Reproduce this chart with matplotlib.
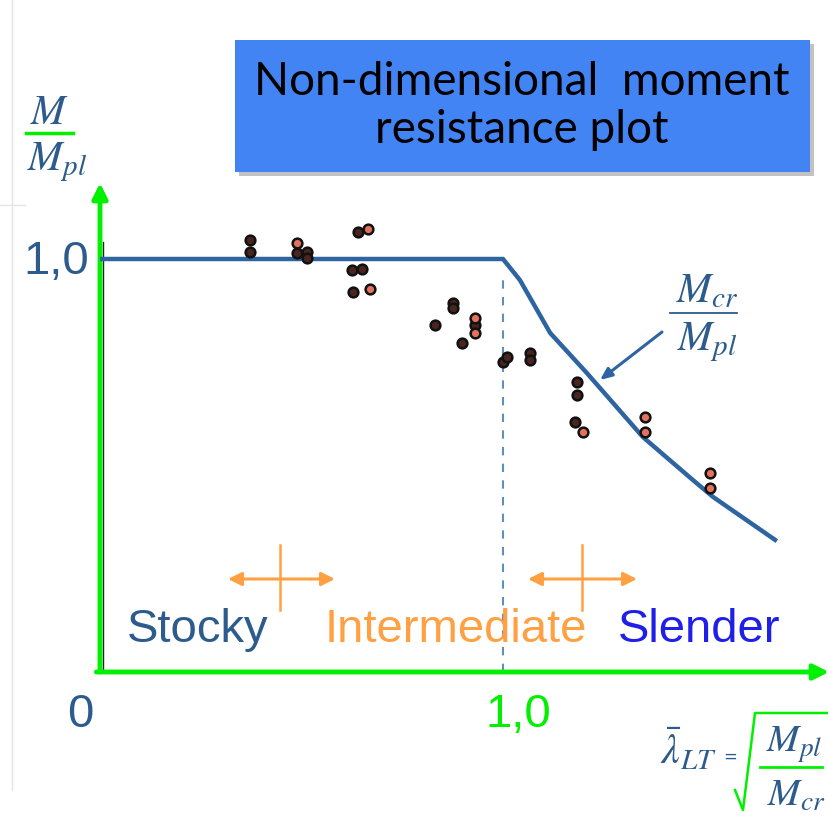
import matplotlib
matplotlib.use("Agg")
import matplotlib.pyplot as plt
from matplotlib.patches import Rectangle

plt.rcParams["mathtext.fontset"] = "stix"

# design curve M/Mpl vs lambda_LT
curve_lam = [0.0, 1.0, 1.042, 1.117, 1.208, 1.347, 1.471, 1.521, 1.675]
curve_m = [1.0, 1.0, 0.949, 0.821, 0.724, 0.569, 0.465, 0.424, 0.320]

# test results, dark markers
dark_lam = [0.372, 0.372, 0.489, 0.514, 0.514, 0.640, 0.625, 0.650, 0.628,
            0.876, 0.876, 0.831, 0.931, 0.898, 1.000, 1.010, 1.067, 1.067,
            1.184, 1.184, 1.179]
dark_m = [1.046, 1.017, 1.015, 1.017, 1.002, 1.065, 0.973, 0.976, 0.920,
          0.893, 0.881, 0.840, 0.840, 0.797, 0.751, 0.763, 0.772, 0.755,
          0.702, 0.671, 0.605]
# test results, light (salmon) markers
light_lam = [0.489, 0.665, 0.670, 0.931, 0.931, 1.199, 1.352, 1.352, 1.514, 1.514]
light_m = [1.039, 1.073, 0.927, 0.857, 0.821, 0.581, 0.617, 0.581, 0.482, 0.446]

title = "Non-dimensional  moment\nresistance plot"
zones = ["Stocky", "Intermediate", "Slender"]
zone_colors = ["#2d5b8c", "#ffa043", "#1f1fe8"]

W, H = 829, 817
DARK = "#2d5b8c"
GREEN = "#00f000"
LINE = "#2e64a0"


def px(x, y):
    # pixel position (from top-left) -> figure fraction
    return (x / W, 1 - y / H)


fig = plt.figure(figsize=(W / 100, H / 100), dpi=100)
fig.patch.set_facecolor("white")

# faint slide border marks
fig.add_artist(plt.Line2D([12 / W, 12 / W], [1 - 790 / H, 1.0], color="#e4e4e4", lw=1))
fig.add_artist(plt.Line2D([0, 25 / W], [1 - 205 / H, 1 - 205 / H], color="#e4e4e4", lw=1))

x0, y0 = 100, 672
sx, sy = 403, 413
ax = fig.add_axes([x0 / W, (H - y0) / H, (W - x0) / W, (y0 - 183) / H])
ax.set_xlim(0, (W - x0) / sx)
ax.set_ylim(0, (y0 - 183) / sy)
ax.axis("off")

# green axes with arrowheads
ax.annotate("", xy=(0, 1.0), xytext=(0, 0), xycoords="axes fraction",
            arrowprops=dict(arrowstyle="-|>,head_length=0.9,head_width=0.45",
                            color=GREEN, lw=3.5, shrinkA=0, shrinkB=0))
ax.annotate("", xy=(1.0, 0), xytext=(-0.005, 0), xycoords="axes fraction",
            arrowprops=dict(arrowstyle="-|>,head_length=0.9,head_width=0.45",
                            color=GREEN, lw=3.5, shrinkA=0, shrinkB=0))
ax.plot([0.008, 0.008], [0.005, 1.04], color="#222222", lw=1, zorder=1)

# dashed line at lambda = 1
ax.plot([1.0, 1.0], [0.0, (y0 - 278) / sy], ls=(0, (4, 4)), color="#5f8fbd", lw=1.5)

# curve
ax.plot(curve_lam, curve_m, color=LINE, lw=3.2, solid_joinstyle="miter", zorder=3)

# test points
ax.plot(dark_lam, dark_m, "o", ms=7, mfc="#4a2520", mec="#111111", mew=1.8, zorder=4)
ax.plot(light_lam, light_m, "o", ms=7, mfc="#e4705e", mec="#111111", mew=1.8, zorder=4)

# Mcr/Mpl label with arrow
ax.annotate("", xy=((600 - x0) / sx, (y0 - 380) / sy), xytext=((662 - x0) / sx, (y0 - 332) / sy),
            arrowprops=dict(arrowstyle="-|>,head_length=0.7,head_width=0.3",
                            color=LINE, lw=2.2, shrinkA=0, shrinkB=0))
fig.text(*px(707, 290), r"$M_{cr}$", ha="center", va="center", color=DARK, fontsize=30)
fig.add_artist(plt.Line2D([670 / W, 737 / W], [1 - 313 / H] * 2, color=DARK, lw=1.3))
fig.text(*px(707, 342), r"$M_{pl}$", ha="center", va="center", color=DARK, fontsize=30)

# y-axis label M/Mpl
fig.text(*px(50, 112), r"$M$", ha="center", va="center", color=DARK, fontsize=30)
fig.add_artist(plt.Line2D([26 / W, 73 / W], [1 - 133 / H] * 2, color=GREEN, lw=2.5))
fig.text(*px(57, 162), r"$M_{pl}$", ha="center", va="center", color=DARK, fontsize=30)

# tick labels
fig.text(*px(56, 262), "1,0", ha="center", va="center", color=DARK, fontsize=34,
         family="Liberation Sans")
fig.text(*px(80, 715), "0", ha="center", va="center", color=DARK, fontsize=34,
         family="Liberation Sans")
fig.text(*px(518, 715), "1,0", ha="center", va="center", color=GREEN, fontsize=34,
         family="Liberation Sans")

# x-axis label lambda_LT = sqrt(Mpl/Mcr)
fig.text(*px(688, 750), r"$\bar{\lambda}_{LT}$", ha="center", va="center", color=DARK, fontsize=30)
fig.text(*px(730, 757), "=", ha="center", va="center", color=DARK, fontsize=12)
fig.add_artist(plt.Line2D([735 / W, 743 / W, 755 / W, W / W],
                          [1 - 790 / H, 1 - 810 / H, 1 - 713 / H, 1 - 713 / H],
                          color=GREEN, lw=1.8))
fig.text(*px(794, 745), r"$M_{pl}$", ha="center", va="center", color=DARK, fontsize=28)
fig.add_artist(plt.Line2D([760 / W, 822 / W], [1 - 767 / H] * 2, color=GREEN, lw=2))
fig.text(*px(796, 795), r"$M_{cr}$", ha="center", va="center", color=DARK, fontsize=28)

# zone labels
for name, col, xc in zip(zones, zone_colors, [198, 456, 699]):
    fig.text(*px(xc, 630), name, ha="center", va="center", color=col, fontsize=34,
             family="Liberation Sans")

# orange double arrows with tick
for xa, xb, xt in [(228, 335, 280), (528, 637, 582)]:
    ax.annotate("", xy=((xb - x0) / sx, (y0 - 579) / sy), xytext=((xa - x0) / sx, (y0 - 579) / sy),
                arrowprops=dict(arrowstyle="<|-|>,head_length=0.8,head_width=0.4",
                                color="#ffa043", lw=2.2, shrinkA=0, shrinkB=0))
    ax.plot([(xt - x0) / sx] * 2, [(y0 - 545) / sy, (y0 - 610) / sy], color="#ffa043", lw=1.8)

# title box with shadow
fig.add_artist(Rectangle(px(239, 176), 575 / W, 132 / H, facecolor="#9a9a9a",
                         edgecolor="none", alpha=0.6))
fig.add_artist(Rectangle(px(235, 172), 575 / W, 132 / H, facecolor="#4384f5",
                         edgecolor="none"))
fig.text(*px(522, 106), title, ha="center", va="center", color="black", fontsize=33,
         family="Lato", linespacing=1.2)

fig.savefig("out.png", dpi=100)
